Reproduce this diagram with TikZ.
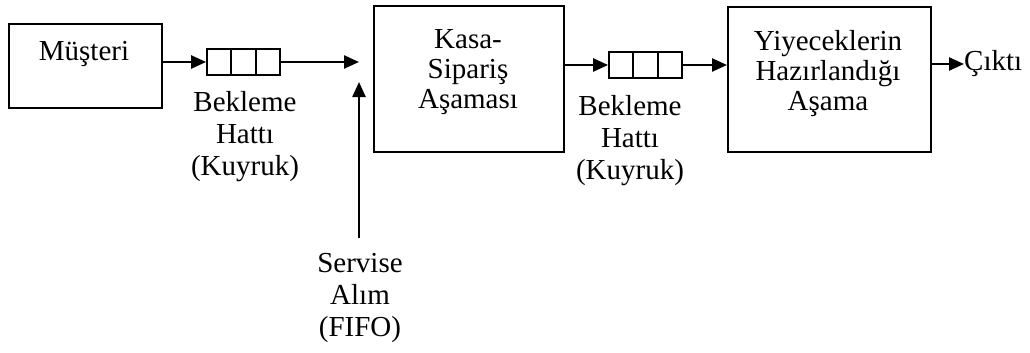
\documentclass[tikz,border=0pt]{standalone}
\usepackage{fontspec}
\setmainfont{Liberation Serif}
\usetikzlibrary{arrows.meta,calc}
\begin{document}
\begin{tikzpicture}[x=1pt,y=-1pt,
  box/.style={draw,line width=1.8pt,inner sep=0pt,anchor=north west},
  txt/.style={align=center,inner sep=0pt,font=\fontsize{29}{30}\selectfont},
  lbl/.style={align=center,inner sep=0pt,font=\fontsize{29}{32}\selectfont},
  queue/.style={draw,line width=1.8pt,inner sep=0pt,minimum width=73pt,minimum height=26pt},
  conn/.style={line width=2.4pt,-{Triangle[length=15pt,width=13pt]}}]
\useasboundingbox (0,0) rectangle (1030,353);
% boxes
\node[box,minimum width=153pt,minimum height=84pt] (b1) at (8,23) {};
\node[box,minimum width=190pt,minimum height=146pt] (b2) at (373,5) {};
\node[box,minimum width=203pt,minimum height=145pt] (b3) at (727,6) {};
\node[txt] (t1) at (84,54) {Müşteri};
\node[txt] (t2) at (468,72) {Kasa-\\Sipariş\\Aşaması};
\node[txt] (t3) at (828,74) {Yiyeceklerin\\Hazırlandığı\\Aşama};
% queues
\node[queue] (q1) at (243.5,62) {};
\node[queue] (q2) at (645.5,65) {};
\foreach \q in {q1,q2}{
  \draw[line width=1.8pt] ($(\q.north west)!1/3!(\q.north east)$) -- ($(\q.south west)!1/3!(\q.south east)$);
  \draw[line width=1.8pt] ($(\q.north west)!2/3!(\q.north east)$) -- ($(\q.south west)!2/3!(\q.south east)$);
}
% labels
\node[lbl] (l1) at (245,137) {Bekleme\\Hattı\\(Kuyruk)};
\node[lbl] (l2) at (630,141) {Bekleme\\Hattı\\(Kuyruk)};
\node[lbl] (l3) at (360,298) {Servise\\Alım\\(FIFO)};
\node[txt,anchor=west] (out) at (964,64) {Çıktı};
% connectors
\coordinate (m1) at (359,62);
\coordinate (m2) at (359,82);
\coordinate (s0) at (359,238);
\draw[conn] (b1.east |- q1) -- (q1.west);
\draw[conn] (q1.east) -- (m1);
\draw[conn] (s0) -- (m2);
\draw[conn] (b2.east |- q2) -- (q2.west);
\draw[conn] (q2.east) -- (b3.west |- q2);
\draw[conn] (b3.east |- out) -- (out.west);
\end{tikzpicture}
\end{document}
